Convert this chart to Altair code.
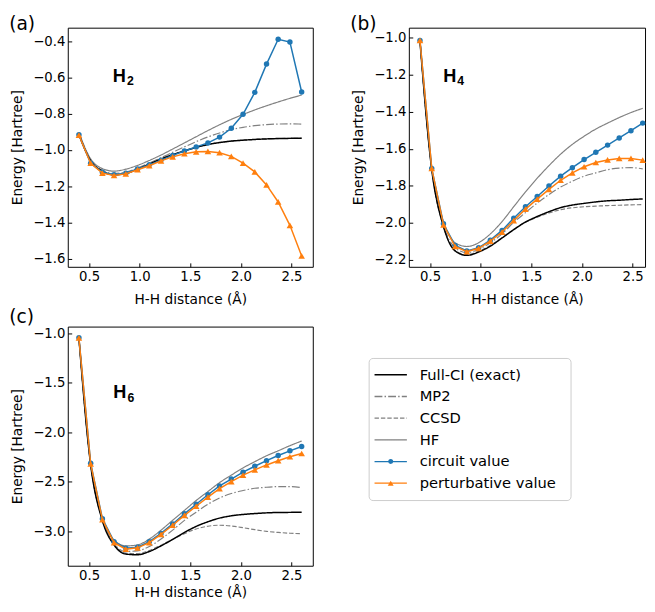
import altair as alt
import pandas as pd

# ---------------- data ----------------
x_grid = [0.400, 0.516, 0.632, 0.747, 0.863, 0.979, 1.095, 1.211, 1.326, 1.442,
          1.558, 1.674, 1.789, 1.905, 2.021, 2.137, 2.253, 2.368, 2.484, 2.600]

series_names = ["Full-CI (exact)", "MP2", "CCSD", "HF", "circuit value", "perturbative value"]

# H2
h2_fci = [-0.915, -1.060, -1.117, -1.137, -1.130, -1.106, -1.078, -1.050, -1.026, -1.005,
          -0.986, -0.970, -0.959, -0.951, -0.946, -0.942, -0.939, -0.937, -0.936, -0.935]
h2_mp2 = [-0.910, -1.058, -1.112, -1.130, -1.122, -1.100, -1.072, -1.043, -1.013, -0.983,
          -0.954, -0.928, -0.906, -0.888, -0.875, -0.866, -0.860, -0.857, -0.856, -0.857]
h2_ccsd = [-0.915, -1.060, -1.117, -1.137, -1.130, -1.106, -1.078, -1.050, -1.026, -1.005,
           -0.986, -0.970, -0.959, -0.951, -0.946, -0.942, -0.939, -0.937, -0.936, -0.935]
h2_hf = [-0.904, -1.049, -1.103, -1.117, -1.106, -1.085, -1.058, -1.028, -0.995, -0.961,
         -0.927, -0.893, -0.861, -0.831, -0.804, -0.779, -0.756, -0.735, -0.715, -0.697]
h2_circ = [-0.916, -1.073, -1.123, -1.136, -1.128, -1.105, -1.082, -1.056, -1.030, -1.006,
           -0.983, -0.961, -0.929, -0.880, -0.803, -0.682, -0.526, -0.389, -0.404, -0.680]
h2_pert = [-0.918, -1.073, -1.128, -1.141, -1.132, -1.109, -1.087, -1.060, -1.038, -1.021,
           -1.010, -1.008, -1.015, -1.035, -1.073, -1.121, -1.193, -1.287, -1.416, -1.585]

# H4
h4_fci = [-1.020, -1.712, -2.020, -2.152, -2.176, -2.158, -2.126, -2.082, -2.037, -1.996,
          -1.966, -1.940, -1.918, -1.904, -1.895, -1.887, -1.881, -1.878, -1.874, -1.871]
h4_mp2 = [-1.015, -1.708, -2.013, -2.135, -2.161, -2.144, -2.108, -2.060, -1.998, -1.945,
          -1.893, -1.847, -1.807, -1.775, -1.748, -1.730, -1.713, -1.704, -1.702, -1.708]
h4_ccsd = [-1.020, -1.712, -2.020, -2.150, -2.172, -2.154, -2.122, -2.080, -2.036, -1.997,
           -1.970, -1.947, -1.929, -1.919, -1.913, -1.910, -1.907, -1.905, -1.903, -1.902]
h4_hf = [-1.010, -1.700, -1.995, -2.108, -2.128, -2.108, -2.060, -1.993, -1.913, -1.833,
         -1.759, -1.691, -1.629, -1.576, -1.532, -1.493, -1.461, -1.431, -1.404, -1.381]
h4_circ = [-1.014, -1.706, -2.005, -2.122, -2.152, -2.135, -2.094, -2.041, -1.975, -1.913,
           -1.858, -1.801, -1.748, -1.702, -1.658, -1.619, -1.580, -1.541, -1.502, -1.461]
h4_pert = [-1.014, -1.706, -2.011, -2.128, -2.156, -2.138, -2.099, -2.050, -1.988, -1.926,
           -1.872, -1.819, -1.770, -1.730, -1.697, -1.674, -1.660, -1.652, -1.652, -1.661]

# H6
h6_fci = [-1.050, -2.330, -2.895, -3.140, -3.232, -3.239, -3.206, -3.149, -3.083, -3.013,
          -2.952, -2.905, -2.868, -2.845, -2.831, -2.822, -2.815, -2.811, -2.810, -2.808]
h6_mp2 = [-1.045, -2.320, -2.885, -3.125, -3.206, -3.199, -3.156, -3.080, -2.990, -2.891,
          -2.808, -2.728, -2.665, -2.619, -2.589, -2.566, -2.556, -2.549, -2.549, -2.559]
h6_ccsd = [-1.050, -2.328, -2.890, -3.132, -3.222, -3.228, -3.196, -3.142, -3.082, -3.025,
           -2.978, -2.950, -2.940, -2.948, -2.965, -2.985, -3.002, -3.013, -3.021, -3.026]
h6_hf = [-1.040, -2.310, -2.870, -3.090, -3.149, -3.139, -3.080, -2.990, -2.890, -2.790,
         -2.690, -2.599, -2.509, -2.433, -2.360, -2.297, -2.237, -2.187, -2.135, -2.088]
h6_circ = [-1.043, -2.313, -2.874, -3.106, -3.172, -3.162, -3.106, -3.023, -2.927, -2.824,
           -2.728, -2.632, -2.542, -2.473, -2.403, -2.343, -2.287, -2.234, -2.187, -2.144]
h6_pert = [-1.045, -2.320, -2.884, -3.116, -3.182, -3.169, -3.116, -3.033, -2.940, -2.841,
           -2.748, -2.655, -2.569, -2.499, -2.433, -2.380, -2.330, -2.287, -2.247, -2.214]

panel_letters = ["(a)", "(b)", "(c)"]
mol_main = ["H", "H", "H"]
mol_sub = ["2", "4", "6"]
x_ticks = [0.5, 1.0, 1.5, 2.0, 2.5]
y_ticks_h2 = [-1.6, -1.4, -1.2, -1.0, -0.8, -0.6, -0.4]
y_ticks_h4 = [-2.2, -2.0, -1.8, -1.6, -1.4, -1.2, -1.0]
y_ticks_h6 = [-3.0, -2.5, -2.0, -1.5, -1.0]

# ---------------- styles ----------------
COLORS = ["black", "#808080", "#808080", "#808080", "#1f77b4", "#ff7f0e"]
DASHES = [[1, 0], [8, 2.2, 1.5, 2.2], [4.5, 2], [1, 0], [1, 0], [1, 0]]
WIDTHS = [1.5, 1.2, 1.2, 1.2, 1.5, 1.5]
style = {n: (c, d, w) for n, c, d, w in zip(series_names, COLORS, DASHES, WIDTHS)}
FONT = "DejaVu Sans"


def make_panel(letter, main, sub, vals, ydom, yticks, width, xmax, hpos, spos, toff, xtp):
    X = alt.X("x:Q", scale=alt.Scale(domain=[0.29, xmax], nice=False, zero=False),
              axis=alt.Axis(values=x_ticks, format=".1f", title="H-H distance (Å)",
                            titlePadding=xtp))
    Y = alt.Y("E:Q", scale=alt.Scale(domain=ydom, nice=False, zero=False),
              axis=alt.Axis(values=yticks, format=".1f", title="Energy [Hartree]"))
    layers = []
    for name in ["CCSD", "MP2", "HF", "Full-CI (exact)"]:
        c, d, w = style[name]
        df = pd.DataFrame({"x": x_grid, "E": vals[name]})
        layers.append(alt.Chart(df).mark_line(interpolate="monotone", color=c,
                                              strokeDash=d, strokeWidth=w).encode(x=X, y=Y))
    for name, shp, sz in [("circuit value", "circle", 31), ("perturbative value", "triangle-up", 45)]:
        c, d, w = style[name]
        df = pd.DataFrame({"x": x_grid, "E": vals[name]})
        layers.append(alt.Chart(df).mark_line(color=c, strokeWidth=w).encode(x=X, y=Y))
        layers.append(alt.Chart(df).mark_point(filled=True, shape=shp, size=sz, color=c,
                                               opacity=1).encode(x=X, y=Y))
    layers.append(alt.Chart(pd.DataFrame({"t": [main]})).mark_text(
        align="left", baseline="alphabetic", font="Liberation Sans", fontWeight="bold",
        fontSize=18.5, color="black").encode(text="t:N", x=alt.value(hpos[0]), y=alt.value(hpos[1])))
    layers.append(alt.Chart(pd.DataFrame({"t": [sub]})).mark_text(
        align="left", baseline="alphabetic", font="Liberation Sans", fontWeight="bold",
        fontSize=12.5, color="black").encode(text="t:N", x=alt.value(spos[0]), y=alt.value(spos[1])))
    return alt.layer(*layers).properties(
        width=width, height=244,
        title=alt.TitleParams(letter, anchor="start", fontSize=19, font=FONT,
                              fontWeight="normal", offset=toff, dx=-2))


va = {"Full-CI (exact)": h2_fci, "MP2": h2_mp2, "CCSD": h2_ccsd, "HF": h2_hf,
      "circuit value": h2_circ, "perturbative value": h2_pert}
vb = {"Full-CI (exact)": h4_fci, "MP2": h4_mp2, "CCSD": h4_ccsd, "HF": h4_hf,
      "circuit value": h4_circ, "perturbative value": h4_pert}
vc = {"Full-CI (exact)": h6_fci, "MP2": h6_mp2, "CCSD": h6_ccsd, "HF": h6_hf,
      "circuit value": h6_circ, "perturbative value": h6_pert}

pa = make_panel(panel_letters[0], mol_main[0], mol_sub[0], va, [-1.645, -0.325], y_ticks_h2,
                250, 2.71, (46, 55), (60.5, 58), -6, 10)
pb = make_panel(panel_letters[1], mol_main[1], mol_sub[1], vb, [-2.238, -0.945], y_ticks_h4,
                241, 2.623, (35, 55), (49.5, 58.5), -6, 10)
pc = make_panel(panel_letters[2], mol_main[2], mol_sub[2], vc, [-3.35, -0.93], y_ticks_h6,
                250, 2.71, (46.5, 73), (61, 76.5), 0, 4)

# ---------------- legend panel ----------------
leg_df = pd.DataFrame({"series": series_names})
LY = alt.Y("series:N", sort=series_names, scale=alt.Scale(padding=0.556), axis=None)
LC = alt.Color("series:N", scale=alt.Scale(domain=series_names, range=COLORS), legend=None)
LD = alt.StrokeDash("series:N", scale=alt.Scale(domain=series_names, range=DASHES), legend=None)
LW = alt.StrokeWidth("series:N", scale=alt.Scale(domain=series_names, range=WIDTHS), legend=None)

leg_lines = alt.Chart(leg_df).mark_rule().encode(
    x=alt.value(6), x2=alt.value(39), y=LY, color=LC, strokeDash=LD, strokeWidth=LW)
leg_pts = alt.Chart(leg_df).transform_filter(
    alt.FieldOneOfPredicate(field="series", oneOf=["circuit value", "perturbative value"])
).mark_point(filled=True, opacity=1).encode(
    x=alt.value(22.5), y=LY, color=LC,
    shape=alt.Shape("series:N", scale=alt.Scale(domain=["circuit value", "perturbative value"],
                                                range=["circle", "triangle-up"]), legend=None),
    size=alt.Size("series:N", scale=alt.Scale(domain=["circuit value", "perturbative value"],
                                              range=[26, 36]), legend=None))
leg_text = alt.Chart(leg_df).mark_text(align="left", baseline="middle", font=FONT,
                                       fontSize=15, color="black").encode(
    x=alt.value(52), y=LY, text="series:N")
legend_panel = alt.layer(leg_lines, leg_pts, leg_text).properties(
    width=206, height=145, view=alt.ViewBackground(stroke="#cccccc", strokeWidth=1, cornerRadius=4))

spacer = alt.Chart(pd.DataFrame({"a": [0]})).mark_point(opacity=0, size=1).encode(
    x=alt.value(0), y=alt.value(0)).properties(
    width=206, height=30, view=alt.ViewBackground(stroke="transparent"))

right_col = alt.vconcat(spacer, legend_panel, spacing=0)

top = alt.hconcat(pa, pb, spacing=36)
bottom = alt.hconcat(pc, right_col, spacing=55)

chart = alt.vconcat(top, bottom, spacing=0).properties(padding=0).configure_view(
    stroke="black", strokeWidth=1
).configure_axis(
    labelFont=FONT, labelFontSize=13.5, labelColor="black",
    titleFont=FONT, titleFontSize=14, titleFontWeight="normal", titleColor="black",
    grid=False, domain=False, ticks=True, tickSize=4, offset=-4, tickColor="black",
    labelPadding=3
).configure_axisY(titlePadding=8)

chart.save("out.html", embed_options={"renderer": "svg", "actions": False})
